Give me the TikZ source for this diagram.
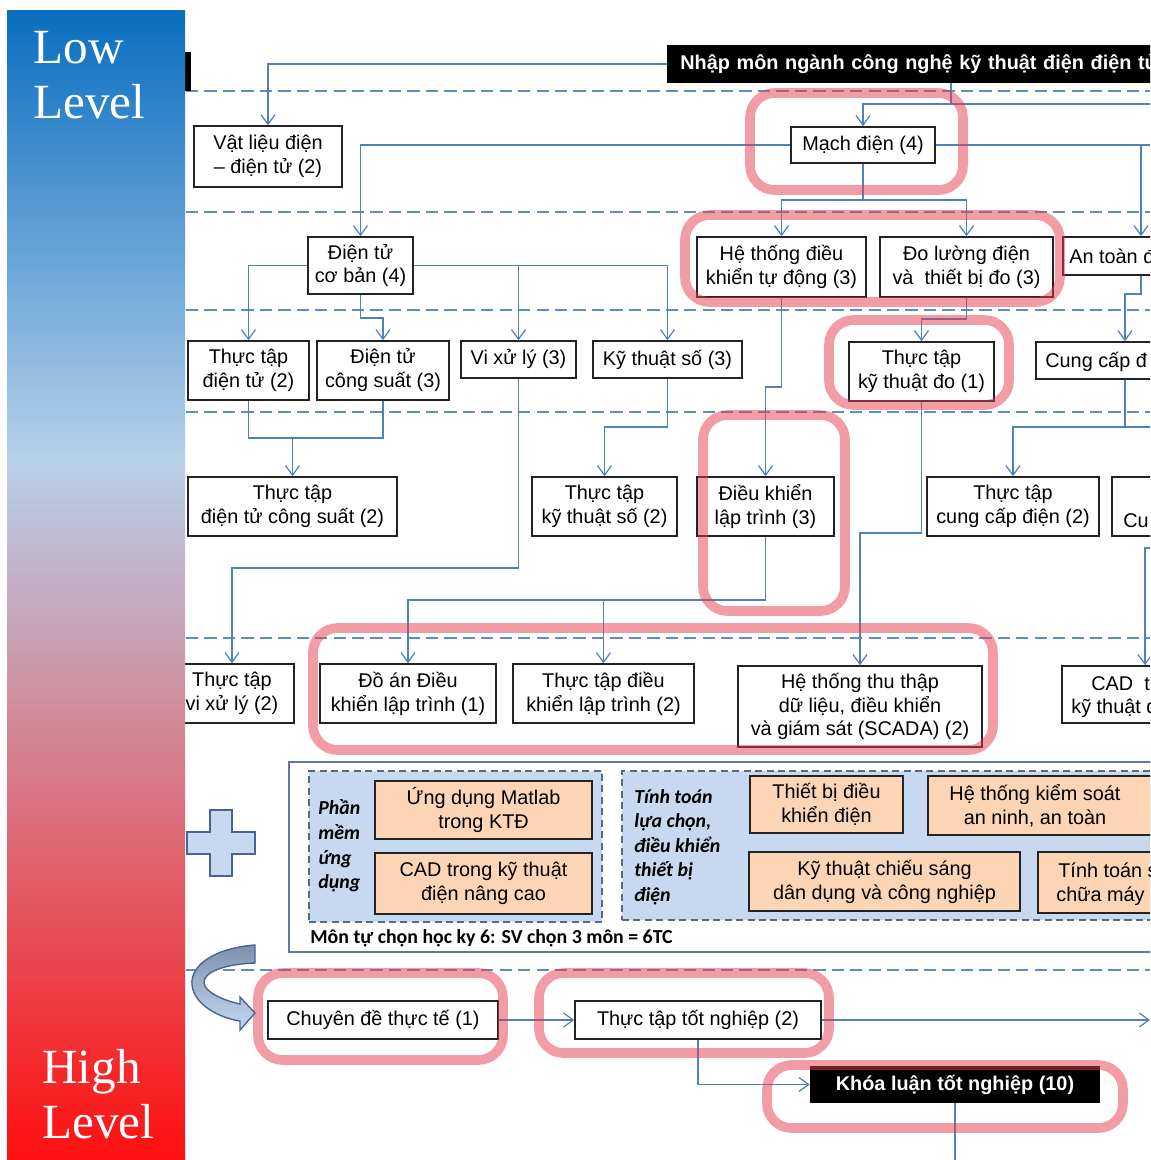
\documentclass[tikz,border=0pt]{standalone}
\usepackage{fontspec}
\setmainfont{Liberation Sans}
\newfontfamily\serifF{Liberation Serif}
\newfontfamily\calF{Carlito}
\usetikzlibrary{arrows.meta}
\definecolor{lnblue}{RGB}{79,129,189}
\definecolor{dashblue}{RGB}{95,140,195}
\definecolor{hlred}{RGB}{230,60,75}
\definecolor{lbfill}{RGB}{198,217,241}
\definecolor{orfill}{RGB}{252,213,180}
\definecolor{boxedge}{RGB}{35,35,35}
\definecolor{outerblue}{RGB}{95,120,160}
\definecolor{innerdash}{RGB}{90,105,130}
\definecolor{plusedge}{RGB}{70,100,150}
\definecolor{curvtop}{RGB}{125,145,175}
\definecolor{barTop}{RGB}{10,110,192}
\definecolor{barMid}{RGB}{182,209,234}
\definecolor{barBot}{RGB}{255,15,15}
\newcommand\Bx[7]{\node[#1, minimum width={(#5-#3)*0.02cm}, minimum height={(#6-#4)*0.02cm}] (#2) at ({(#3+#5)/2},{(#4+#6)/2}) {#7};}
\begin{document}
\begin{tikzpicture}[x=0.02cm,y=-0.02cm,
 font=\fontsize{11.3}{13.6}\selectfont,
 bx/.style={draw=boxedge, line width=0.85pt, fill=white, inner sep=0pt, align=center},
 ob/.style={draw=boxedge, line width=0.85pt, fill=orfill, inner sep=0pt, align=center},
 blk/.style={fill=black, text=white, inner sep=0pt, align=center, font=\fontsize{11.3}{13.6}\selectfont\bfseries},
 eb/.style={draw=outerblue, line width=1pt, fill=white, inner sep=0pt},
 dbox/.style={draw=innerdash, line width=0.8pt, dash pattern=on 4pt off 2.5pt, fill=lbfill, inner sep=0pt},
 txt/.style={inner sep=0pt, anchor=base west},
 cn/.style={draw=lnblue, line width=0.7pt},
 ar/.style={cn, -{Straight Barb[length=5.5pt,width=8pt]}},
 dline/.style={draw=dashblue, line width=0.85pt, dash pattern=on 7pt off 3.5pt},
 hl/.style={draw=hlred, line width=5.5pt, rounded corners=14pt, opacity=0.5},
 lbl/.style={inner sep=0pt, align=left, anchor=west, font=\fontsize{11.3}{14}\selectfont\calF\bfseries\itshape},
 big/.style={inner sep=0pt, anchor=base west, text=white, font=\fontsize{28}{31}\selectfont\serifF},
]
\useasboundingbox (0,0) rectangle (1150,1160);
\begin{scope}
\clip (0,0) rectangle (1150,1160);

% dashed level lines
\foreach \yy in {91,212,310,412,638,970} \draw[dline] (186,\yy) -- (1150,\yy);

\fill (185,52) rectangle (191,91);

% title
\node[blk, anchor=west, minimum height=0.76cm, inner xsep=0.26cm, text width=12cm, align=left] (title) at (667,64) {Nhập môn ngành công nghệ kỹ thuật điện điện tử};

% row 1
\Bx{bx}{vat}{194}{126}{342}{187}{Vật liệu điện\\– điện tử (2)}
\Bx{bx}{mach}{791}{127}{935}{163}{Mạch điện (4)}
% row 2
\Bx{bx}{dtcb}{308}{237}{413}{294}{Điện tử\\cơ bản (4)}
\Bx{bx}{htdk}{697}{237}{866}{297}{Hệ thống điều\\khiển tự động (3)}
\Bx{bx}{dlu}{880}{237}{1053}{297}{Đo lường điện\\và\ \ thiết bị đo (3)}
\Bx{bx}{antoan}{1063}{237}{1219}{275}{}
\node[txt] (antoanT) at (1069,263) {An toàn đ};
% row 3
\Bx{bx}{ttdt}{188}{341}{309}{400}{Thực tập\\điện tử (2)}
\Bx{bx}{dtcs}{317}{341}{449}{400}{Điện tử\\công suất (3)}
\Bx{bx}{vxl}{461}{341}{576}{378}{Vi xử lý (3)}
\Bx{bx}{kts}{593}{341}{742}{378}{Kỹ thuật số (3)}
\Bx{bx}{ttdo}{849}{342}{994}{401}{Thực tập\\kỹ thuật đo (1)}
\Bx{bx}{cc}{1036}{342}{1214}{379}{}
\node[txt] (ccT) at (1045,367) {Cung cấp đ};
% row 4
\Bx{bx}{ttdtcs}{188}{477}{397}{536}{Thực tập\\điện tử công suất (2)}
\Bx{bx}{ttkts}{532}{477}{677}{536}{Thực tập\\kỹ thuật số (2)}
\Bx{bx}{dklt}{697}{477}{834}{536}{Điều khiển\\lập trình (3)}
\Bx{bx}{ttcc}{927}{477}{1099}{536}{Thực tập\\cung cấp điện (2)}
\Bx{bx}{cu}{1112}{477}{1230}{536}{}
\node[txt] (cuT) at (1123,527) {Cu};
% row 5
\Bx{bx}{ttvxl}{170}{664}{294}{723}{Thực tập\\vi xử lý (2)}
\Bx{bx}{da}{320}{664}{496}{723}{Đồ án Điều\\khiển lập trình (1)}
\Bx{bx}{ttdk}{513}{664}{694}{723}{Thực tập điều\\khiển lập trình (2)}
\Bx{bx}{scada}{738}{666}{982}{747}{Hệ thống thu thập\\dữ liệu, điều khiển\\và giám sát (SCADA) (2)}
\Bx{bx}{cad}{1062}{666}{1228}{723}{}
\node[txt] (cadT1) at (1091,690) {CAD\ \ t};
\node[txt] (cadT2) at (1071,713) {kỹ thuật đ};

% electives
\Bx{eb}{elec}{289}{762}{1200}{952}{}
\Bx{dbox}{grp1}{309}{771}{602}{922}{}
\Bx{dbox}{grp2}{622}{771}{1200}{920}{}
\Bx{ob}{om}{375}{781}{592}{839}{Ứng dụng Matlab\\trong KTĐ}
\Bx{ob}{oc}{375}{853}{592}{914}{CAD trong kỹ thuật\\điện nâng cao}
\Bx{ob}{ot}{750}{776}{903}{833}{Thiết bị điều\\khiển điện}
\Bx{ob}{oh}{928}{776}{1200}{835}{}
\node[inner sep=0pt, align=center] (ohT) at (1035,806) {Hệ thống kiểm soát\\an ninh, an toàn};
\Bx{ob}{ok}{749}{852}{1020}{911}{Kỹ thuật chiếu sáng\\dân dụng và công nghiệp}
\Bx{ob}{os}{1038}{852}{1200}{913}{}
\node[txt] (osT1) at (1058,877) {Tính toán s};
\node[txt] (osT2) at (1056,901) {chữa máy};
\node[lbl] (lab1) at (318,846) {Phần\\mềm\\ứng\\dụng};
\node[lbl] (lab2) at (634,847) {Tính toán\\lựa chọn,\\điều khiển\\thiết bị\\điện};
\node[txt, font=\fontsize{11.3}{13.6}\selectfont\calF\bfseries] (mon) at (310,943) {Môn tự chọn học ky 6: SV chọn 3 môn = 6TC};

% row 6
\Bx{bx}{cde}{268}{1001}{498}{1039}{Chuyên đề thực tế (1)}
\Bx{bx}{tttn}{575}{1001}{821}{1039}{Thực tập tốt nghiệp (2)}
\Bx{blk}{kl}{810}{1066}{1100}{1103}{Khóa luận tốt nghiệp (10)}

% connectors
\coordinate (t1) at (951,104);
\coordinate (e1) at (1150,104);
\draw[ar] (title.west) -| (vat.north);
\draw[cn] (t1 |- title.south) -- (t1) -- (e1);
\draw[ar] (t1) -| (mach.north);
\coordinate (e2) at (1150,145);
\draw[ar] (mach.west) -| (dtcb.north);
\draw[cn] (mach.east) -- (e2);
\draw[ar] (antoan.north |- mach.east) -- (antoan.north);
\coordinate (m1) at (863,200);
\draw[cn] (mach.south) -- (m1);
\draw[ar] (m1) -| (htdk.north);
\draw[ar] (m1) -| (dlu.north);

\draw[ar] (dtcb.west) -| (ttdt.north);
\coordinate (c1) at (383,318);
\draw[ar] (dtcb.south) |- (c1) -- (dtcs.north);
\draw[ar] (dtcb.east) -| (kts.north);
\draw[ar] (vxl.north |- dtcb.east) -- (vxl.north);
\coordinate (c2) at (781.5,387);
\draw[ar] (htdk.south) -- (c2) -| (dklt.north);
\coordinate (c3) at (966.5,319);
\draw[ar] (dlu.south) -- (c3) -| (ttdo.north);
\coordinate (c4) at (1141,294);
\draw[ar] (antoan.south) -- (c4) -| (cc.north);

\coordinate (c5) at (292.5,438);
\draw[cn] (ttdt.south) |- (c5);
\draw[cn] (dtcs.south) |- (c5);
\draw[ar] (c5) -- (ttdtcs.north);
\coordinate (c6) at (518.5,568);
\draw[ar] (vxl.south) -- (c6) -| (ttvxl.north);
\coordinate (c7) at (667.5,427);
\draw[ar] (kts.south) -- (c7) -| (ttkts.north);
\coordinate (c8) at (921.5,533);
\draw[ar] (ttdo.south) -- (c8) -| (scada.north);
\coordinate (c10) at (1125,427);
\coordinate (e3) at (1150,427);
\draw[cn] (cc.south) -- (c10) -- (e3);
\draw[ar] (c10) -| (ttcc.north);
\coordinate (c9) at (765.5,600);
\draw[ar] (dklt.south) -- (c9) -| (da.north);
\draw[ar] (ttdk.north |- c9) -- (ttdk.north);
\coordinate (e4) at (1150,548);
\draw[ar] (e4) -| (cad.north);

\draw[ar] (cde.east) -- (tttn.west);
\coordinate (e5) at (1150,1020);
\draw[ar] (tttn.east) -- (e5);
\draw[ar] (tttn.south) |- (kl.west);
\coordinate (e6) at (955,1160);
\draw[cn] (kl.south) -- (e6);

% highlights
\draw[hl] (750,93) rectangle (963,190);
\draw[hl] (685,215) rectangle (1060,302);
\draw[hl] (829,320) rectangle (1009,405);
\draw[hl] (703,415) rectangle (845,611);
\draw[hl] (313,628) rectangle (993,750);
\draw[hl] (258,973) rectangle (503,1060);
\draw[hl] (539,973) rectangle (829,1053);
\draw[hl] (767,1065) rectangle (1123,1128);

% plus sign
\filldraw[fill=lbfill, draw=plusedge, line width=0.8pt] (210,810) -- (232,810) -- (232,832) -- (255,832) -- (255,854) -- (232,854) -- (232,876) -- (210,876) -- (210,854) -- (187,854) -- (187,832) -- (210,832) -- cycle;

% curved arrow
\path[draw=plusedge, line width=0.8pt, top color=curvtop, bottom color=lbfill]
 (255,945) .. controls (215,948) and (190,965) .. (192,985)
 .. controls (194,1005) and (220,1018) .. (240,1021)
 -- (240,1030) -- (255,1013) -- (240,997) -- (240,1004)
 .. controls (222,1000) and (205,992) .. (204,983)
 .. controls (203,972) and (225,964) .. (255,963) -- cycle;

% level bar
\shade[top color=barTop, bottom color=barMid] (7,10) rectangle (185,461);
\shade[top color=barMid, bottom color=barBot] (7,460) rectangle (185,1160);
\node[big] (lowA) at (33,63) {Low};
\node[big] (lowB) at (33,118) {Level};
\node[big] (highA) at (42,1083) {High};
\node[big] (highB) at (42,1138) {Level};
\end{scope}
\end{tikzpicture}
\end{document}
